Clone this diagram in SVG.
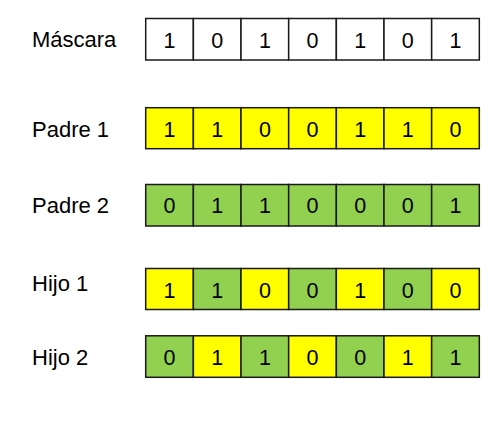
<svg xmlns="http://www.w3.org/2000/svg" width="493" height="427" viewBox="0 0 493 427">
<style>
.lbl{font-family:"Liberation Sans",Arial,sans-serif;font-size:22px;fill:#000}
.d{font-family:"Liberation Sans",Arial,sans-serif;font-size:21.5px;fill:#000;text-anchor:middle}
.c{stroke:#1a1a1a;stroke-width:1.5}
.w{fill:#ffffff}
.y{fill:#ffff00}
.g{fill:#92d050}
</style>
<rect width="493" height="427" fill="#ffffff"/>
<g id="mascara">
<text class="lbl" x="32" y="46.7">Máscara</text>
<rect class="c w" x="145.7" y="18.5" width="47.66" height="41.5"/>
<rect class="c w" x="193.36" y="18.5" width="47.66" height="41.5"/>
<rect class="c w" x="241.02" y="18.5" width="47.66" height="41.5"/>
<rect class="c w" x="288.68" y="18.5" width="47.66" height="41.5"/>
<rect class="c w" x="336.34" y="18.5" width="47.66" height="41.5"/>
<rect class="c w" x="384" y="18.5" width="47.66" height="41.5"/>
<rect class="c w" x="431.66" y="18.5" width="47.66" height="41.5"/>
<text class="d" x="169.5" y="48.3">1</text>
<text class="d" x="217.2" y="48.3">0</text>
<text class="d" x="264.9" y="48.3">1</text>
<text class="d" x="312.5" y="48.3">0</text>
<text class="d" x="360.2" y="48.3">1</text>
<text class="d" x="407.8" y="48.3">0</text>
<text class="d" x="455.5" y="48.3">1</text>
</g>
<g id="padre1">
<text class="lbl" x="32" y="136.7">Padre 1</text>
<rect class="c y" x="145.7" y="107.7" width="47.66" height="41"/>
<rect class="c y" x="193.36" y="107.7" width="47.66" height="41"/>
<rect class="c y" x="241.02" y="107.7" width="47.66" height="41"/>
<rect class="c y" x="288.68" y="107.7" width="47.66" height="41"/>
<rect class="c y" x="336.34" y="107.7" width="47.66" height="41"/>
<rect class="c y" x="384" y="107.7" width="47.66" height="41"/>
<rect class="c y" x="431.66" y="107.7" width="47.66" height="41"/>
<text class="d" x="169.5" y="136.7">1</text>
<text class="d" x="217.2" y="136.7">1</text>
<text class="d" x="264.9" y="136.7">0</text>
<text class="d" x="312.5" y="136.7">0</text>
<text class="d" x="360.2" y="136.7">1</text>
<text class="d" x="407.8" y="136.7">1</text>
<text class="d" x="455.5" y="136.7">0</text>
</g>
<g id="padre2">
<text class="lbl" x="32" y="213.3">Padre 2</text>
<rect class="c g" x="145.7" y="184.5" width="47.66" height="41.5"/>
<rect class="c g" x="193.36" y="184.5" width="47.66" height="41.5"/>
<rect class="c g" x="241.02" y="184.5" width="47.66" height="41.5"/>
<rect class="c g" x="288.68" y="184.5" width="47.66" height="41.5"/>
<rect class="c g" x="336.34" y="184.5" width="47.66" height="41.5"/>
<rect class="c g" x="384" y="184.5" width="47.66" height="41.5"/>
<rect class="c g" x="431.66" y="184.5" width="47.66" height="41.5"/>
<text class="d" x="169.5" y="213.3">0</text>
<text class="d" x="217.2" y="213.3">1</text>
<text class="d" x="264.9" y="213.3">1</text>
<text class="d" x="312.5" y="213.3">0</text>
<text class="d" x="360.2" y="213.3">0</text>
<text class="d" x="407.8" y="213.3">0</text>
<text class="d" x="455.5" y="213.3">1</text>
</g>
<g id="hijo1">
<text class="lbl" x="32" y="290.7">Hijo 1</text>
<rect class="c y" x="145.7" y="268.5" width="47.66" height="41"/>
<rect class="c g" x="193.36" y="268.5" width="47.66" height="41"/>
<rect class="c y" x="241.02" y="268.5" width="47.66" height="41"/>
<rect class="c g" x="288.68" y="268.5" width="47.66" height="41"/>
<rect class="c y" x="336.34" y="268.5" width="47.66" height="41"/>
<rect class="c g" x="384" y="268.5" width="47.66" height="41"/>
<rect class="c y" x="431.66" y="268.5" width="47.66" height="41"/>
<text class="d" x="169.5" y="298.3">1</text>
<text class="d" x="217.2" y="298.3">1</text>
<text class="d" x="264.9" y="298.3">0</text>
<text class="d" x="312.5" y="298.3">0</text>
<text class="d" x="360.2" y="298.3">1</text>
<text class="d" x="407.8" y="298.3">0</text>
<text class="d" x="455.5" y="298.3">0</text>
</g>
<g id="hijo2">
<text class="lbl" x="32" y="365">Hijo 2</text>
<rect class="c g" x="145.7" y="335.8" width="47.66" height="41.5"/>
<rect class="c y" x="193.36" y="335.8" width="47.66" height="41.5"/>
<rect class="c g" x="241.02" y="335.8" width="47.66" height="41.5"/>
<rect class="c y" x="288.68" y="335.8" width="47.66" height="41.5"/>
<rect class="c g" x="336.34" y="335.8" width="47.66" height="41.5"/>
<rect class="c y" x="384" y="335.8" width="47.66" height="41.5"/>
<rect class="c g" x="431.66" y="335.8" width="47.66" height="41.5"/>
<text class="d" x="169.5" y="365">0</text>
<text class="d" x="217.2" y="365">1</text>
<text class="d" x="264.9" y="365">1</text>
<text class="d" x="312.5" y="365">0</text>
<text class="d" x="360.2" y="365">0</text>
<text class="d" x="407.8" y="365">1</text>
<text class="d" x="455.5" y="365">1</text>
</g>
<g id="connectors"/>
</svg>
